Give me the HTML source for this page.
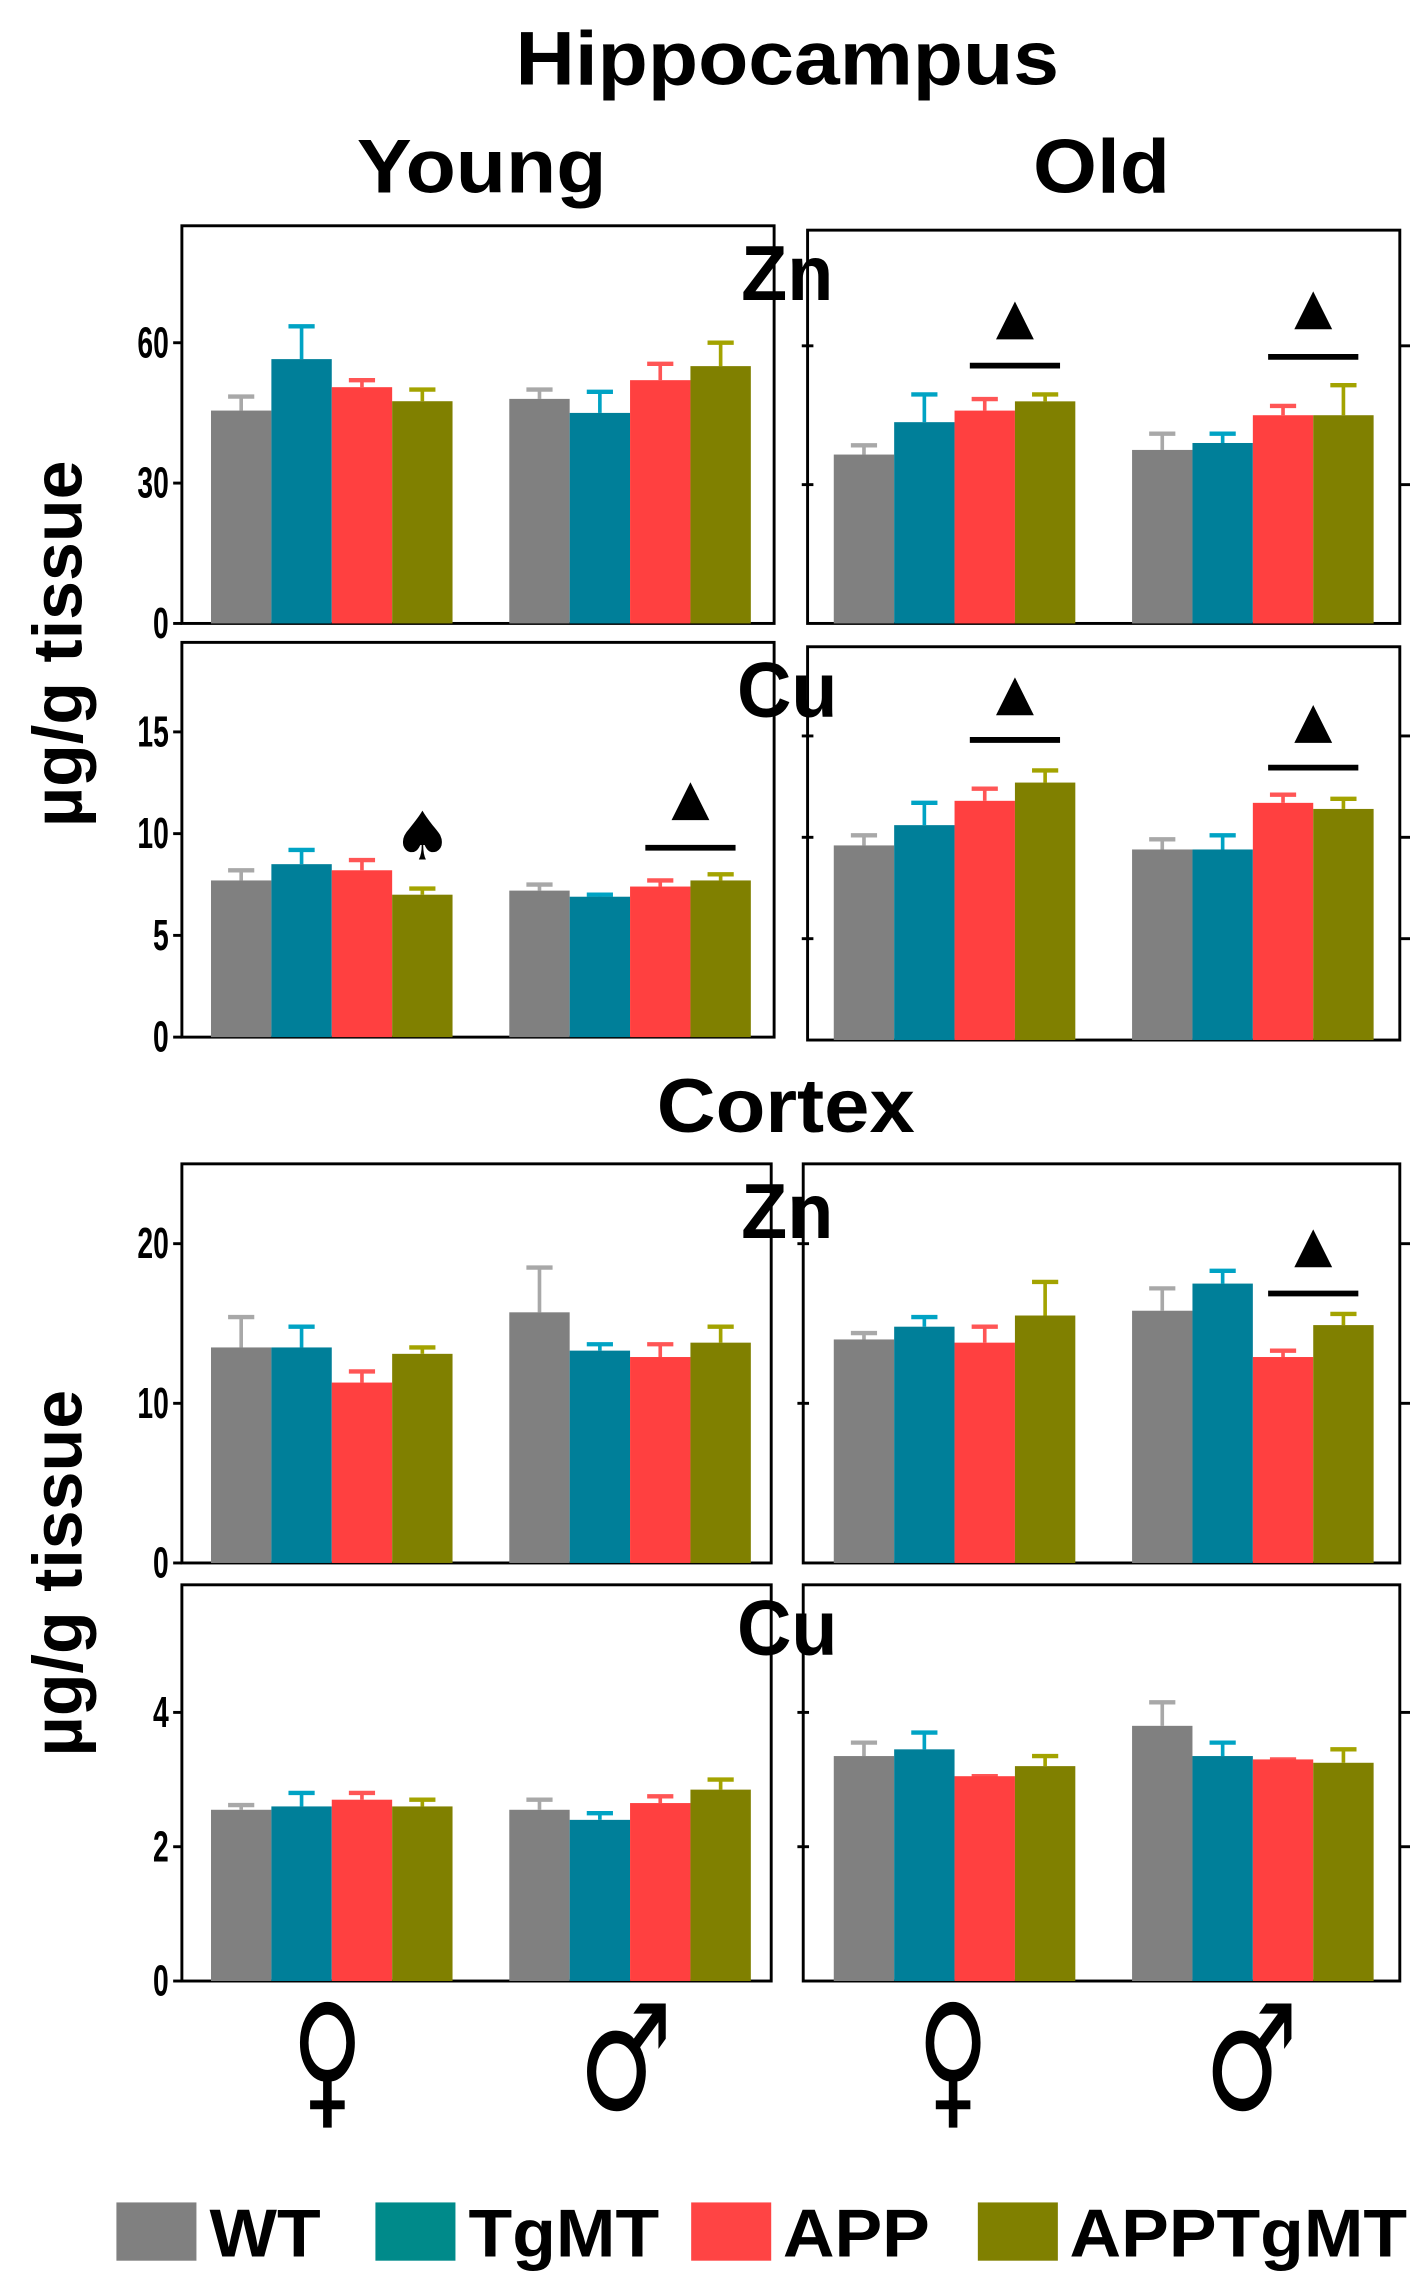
<!DOCTYPE html>
<html><head><meta charset="utf-8"><style>
html,body{margin:0;padding:0;background:#fff;}
svg{display:block;}
text{font-family:"Liberation Sans",sans-serif;font-weight:bold;fill:#000;}
</style></head><body>
<svg id="chart" width="1426" height="2284" viewBox="0 0 980 1568" preserveAspectRatio="none" xmlns="http://www.w3.org/2000/svg">
<text transform="translate(541,58) scale(1.13,1.05)" font-size="50" text-anchor="middle">Hippocampus</text>
<text transform="translate(331,132) scale(1.13,1.05)" font-size="50" text-anchor="middle">Young</text>
<text transform="translate(757,132) scale(1.13,1.05)" font-size="50" text-anchor="middle">Old</text>
<text transform="translate(540,777) scale(1.12,1.05)" font-size="50" text-anchor="middle">Cortex</text>
<text transform="translate(56,442) rotate(-90)" font-size="48" text-anchor="middle">µg/g tissue</text>
<text transform="translate(56,1080) rotate(-90)" font-size="48" text-anchor="middle">µg/g tissue</text>
<g id="panels"></g>
<g id="labels"></g>
<text transform="translate(225,1448) scale(0.7,1.05)" font-size="96" font-weight="normal" style="font-family:'DejaVu Sans',sans-serif" text-anchor="middle">♀</text>
<text transform="translate(430,1448) scale(0.75,1.05)" font-size="96" font-weight="normal" style="font-family:'DejaVu Sans',sans-serif" text-anchor="middle">♂</text>
<text transform="translate(655,1448) scale(0.7,1.05)" font-size="96" font-weight="normal" style="font-family:'DejaVu Sans',sans-serif" text-anchor="middle">♀</text>
<text transform="translate(860,1448) scale(0.75,1.05)" font-size="96" font-weight="normal" style="font-family:'DejaVu Sans',sans-serif" text-anchor="middle">♂</text>
<g>
<rect x="80" y="1512" width="55" height="40" fill="#808080"/>
<text transform="translate(144,1549) scale(1.17,1.1)" font-size="42">WT</text>
<rect x="258" y="1512" width="55" height="40" fill="#008a8a"/>
<text transform="translate(322,1549) scale(1.17,1.1)" font-size="42">TgMT</text>
<rect x="475" y="1512" width="55" height="40" fill="#ff4444"/>
<text transform="translate(538,1549) scale(1.17,1.1)" font-size="42">APP</text>
<rect x="672" y="1512" width="55" height="40" fill="#808000"/>
<text transform="translate(735,1549) scale(1.17,1.1)" font-size="42">APPTgMT</text>
</g>
</svg>
<script>
const genotypes = ["WT","TgMT","APP","APPTgMT"];
const sexes = ["female","male"];
// means [female x4, male x4] and error-bar tops
const hZnYoungMean = [45.5,56.5,50.5,47.5, 48,45,52,55];
const hZnYoungErr  = [48.5,63.5,52,50, 50,49.5,55.5,60];
const hZnOldMean   = [36.5,43.5,46,48, 37.5,39,45,45];
const hZnOldErr    = [38.5,49.5,48.5,49.5, 41,41,47,51.5];
const hCuYoungMean = [7.7,8.5,8.2,7.0, 7.2,6.9,7.4,7.7];
const hCuYoungErr  = [8.2,9.2,8.7,7.3, 7.5,7.0,7.7,8.0];
const hCuOldMean   = [9.6,10.6,11.8,12.7, 9.4,9.4,11.7,11.4];
const hCuOldErr    = [10.1,11.7,12.4,13.3, 9.9,10.1,12.1,11.9];
const cZnYoungMean = [13.5,13.5,11.3,13.1, 15.7,13.3,12.9,13.8];
const cZnYoungErr  = [15.4,14.8,12.0,13.5, 18.5,13.7,13.7,14.8];
const cZnOldMean   = [14.0,14.8,13.8,15.5, 15.8,17.5,12.9,14.9];
const cZnOldErr    = [14.4,15.4,14.8,17.6, 17.2,18.3,13.3,15.6];
const cCuYoungMean = [2.55,2.6,2.7,2.6, 2.55,2.4,2.65,2.85];
const cCuYoungErr  = [2.62,2.8,2.8,2.7, 2.7,2.5,2.75,3.0];
const cCuOldMean   = [3.35,3.45,3.05,3.2, 3.8,3.35,3.3,3.25];
const cCuOldErr    = [3.55,3.7,3.05,3.35, 4.15,3.55,3.3,3.45];
const hZnTicks = [0,30,60];
const hCuTicks = [0,5,10,15];
const cZnTicks = [0,10,20];
const cCuTicks = [0,2,4];

const fill = ["#808080","#007f99","#ff4040","#808000"];
const errc = ["#a8a8a8","#00a3c4","#ff5555","#a3a300"];
const NS = "http://www.w3.org/2000/svg";
const G = document.getElementById("panels");
function el(tag, attrs, parent){const e=document.createElementNS(NS,tag);for(const k in attrs)e.setAttribute(k,attrs[k]);(parent||G).appendChild(e);return e;}

const panels = [
 {id:"hippocampus-zn-young",x0:125,x1:532,top:155,base:428,max:85,mean:hZnYoungMean,err:hZnYoungErr,ticks:hZnTicks,left:true,sig:[]},
 {id:"hippocampus-zn-old",x0:555,x1:962,top:158,base:428,max:85,mean:hZnOldMean,err:hZnOldErr,ticks:hZnTicks,left:false,sig:[[0,251,220],[1,245,213]]},
 {id:"hippocampus-cu-young",x0:125,x1:532,top:441,base:712,max:19.4,mean:hCuYoungMean,err:hCuYoungErr,ticks:hCuTicks,left:true,sig:[[1,582,550]],spade:true},
 {id:"hippocampus-cu-old",x0:555,x1:962,top:444,base:714,max:19.4,mean:hCuOldMean,err:hCuOldErr,ticks:hCuTicks,left:false,sig:[[0,508,478],[1,527,497]]},
 {id:"cortex-zn-young",x0:125,x1:530,top:799,base:1073,max:25,mean:cZnYoungMean,err:cZnYoungErr,ticks:cZnTicks,left:true,sig:[]},
 {id:"cortex-zn-old",x0:552,x1:962,top:799,base:1073,max:25,mean:cZnOldMean,err:cZnOldErr,ticks:cZnTicks,left:false,sig:[[1,888,857]]},
 {id:"cortex-cu-young",x0:125,x1:530,top:1088,base:1360,max:5.9,mean:cCuYoungMean,err:cCuYoungErr,ticks:cCuTicks,left:true,sig:[]},
 {id:"cortex-cu-old",x0:552,x1:962,top:1088,base:1360,max:5.9,mean:cCuOldMean,err:cCuOldErr,ticks:cCuTicks,left:false,sig:[]}
];
const groupStart = {true:[145,350], false:[573,778]};
const bw = 41.5;

panels.forEach(p=>{
  const g = el("g",{});
  
  
  const y = v => p.base - (v/p.max)*(p.base-p.top);
  const box = el("rect",{x:p.x0,y:p.top,width:p.x1-p.x0,height:p.base-p.top,fill:"none",stroke:"#000","stroke-width":2},g);
  
  
  p.ticks.forEach(t=>{
    if(p.left){
      const tk = el("line",{x1:p.x0-6,x2:p.x0,y1:y(t),y2:y(t),stroke:"#000","stroke-width":2},g);
      
      
      const tl = el("text",{"font-size":27,"font-weight":"normal","text-anchor":"end",transform:`translate(${p.x0-9},${y(t)+10}) scale(0.72,1.1)`},g);
      tl.textContent = t;
      
      
    } else if(t>0){
      const tk = el("line",{x1:p.x1,x2:p.x1+7,y1:y(t),y2:y(t),stroke:"#000","stroke-width":2},g);
      
      
      const tk2 = el("line",{x1:p.x0-4,x2:p.x0+4,y1:y(t),y2:y(t),stroke:"#000","stroke-width":2},g);
      
      
    }
  });
  sexes.forEach((s,si)=>{
    genotypes.forEach((gt,gi)=>{
      const i = si*4+gi;
      const bx = groupStart[p.left][si] + gi*bw;
      const ym = y(p.mean[i]), ye = y(p.err[i]);
      const e1 = el("line",{x1:bx+bw/2,x2:bx+bw/2,y1:ym,y2:ye,stroke:errc[gi],"stroke-width":2.5},g);
      
      
      const e2 = el("line",{x1:bx+bw/2-9,x2:bx+bw/2+9,y1:ye,y2:ye,stroke:errc[gi],"stroke-width":3},g);
      
      
      const b = el("rect",{x:bx,y:ym,width:bw,height:p.base-ym,fill:fill[gi]},g);
      
      
    });
  });
  p.sig.forEach(([si,ly,ty])=>{
    const cx = groupStart[p.left][si] + 3*bw;
    const ln = el("line",{x1:cx-31,x2:cx+31,y1:ly,y2:ly,stroke:"#000","stroke-width":4},g);
    
    
    const tr = el("polygon",{points:`${cx-13},${ty+13} ${cx+13},${ty+13} ${cx},${ty-13}`,fill:"#000"},g);
    
    
  });
  if(p.spade){
    const sp = el("text",{x:groupStart[true][0]+3.5*bw,y:590,"font-size":46,"text-anchor":"middle",style:"font-family:'DejaVu Sans',sans-serif"},g);
    sp.textContent = "♠";
    
    
  }
});
const L = document.getElementById("labels");
[["zn","Zn",206],["cu","Cu",492],["zn","Zn",850],["cu","Cu",1136]].forEach(([n,t,yy],k)=>{
  const tx = el("text",{"font-size":48,"text-anchor":"middle",transform:`translate(541,${yy}) scale(1.08,1.12)`},L);
  tx.textContent = t;
  
  
});
</script>
</body></html>
